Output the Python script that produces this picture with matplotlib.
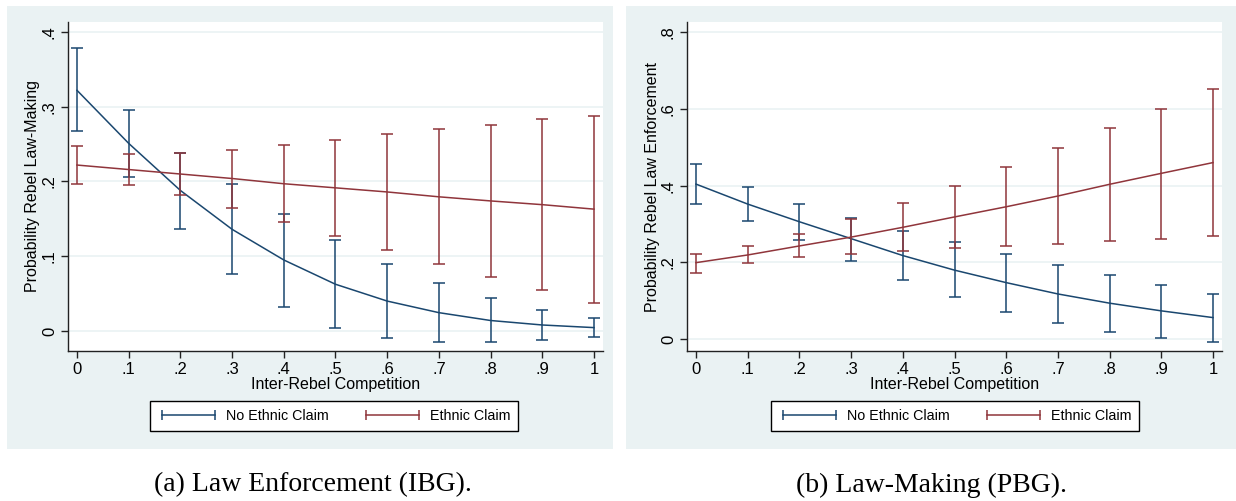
import matplotlib
matplotlib.use("Agg")
import matplotlib.pyplot as plt
from matplotlib.patches import Rectangle
from matplotlib.lines import Line2D

plt.rcParams['font.family'] = ['Liberation Sans', 'DejaVu Sans']

# ---- data -----------------------------------------------------------------
comp = [0, .1, .2, .3, .4, .5, .6, .7, .8, .9, 1]
xticklabels = ["0", ".1", ".2", ".3", ".4", ".5", ".6", ".7", ".8", ".9", "1"]

# (a) law-making
a_no_mean = [0.322, 0.251, 0.188, 0.136, 0.095, 0.0625, 0.040, 0.0245, 0.014, 0.008, 0.0045]
a_no_hi   = [0.378, 0.295, 0.238, 0.196, 0.157, 0.122, 0.090, 0.064, 0.044, 0.028, 0.017]
a_no_lo   = [0.267, 0.206, 0.137, 0.076, 0.032, 0.0045, -0.010, -0.015, -0.015, -0.012, -0.0085]
a_eth_mean = [0.222, 0.216, 0.210, 0.204, 0.197, 0.1915, 0.186, 0.1795, 0.174, 0.169, 0.163]
a_eth_hi   = [0.247, 0.237, 0.238, 0.242, 0.249, 0.256, 0.263, 0.270, 0.276, 0.283, 0.288]
a_eth_lo   = [0.197, 0.195, 0.182, 0.164, 0.1455, 0.127, 0.108, 0.089, 0.072, 0.0545, 0.038]
a_yticks = [0, .1, .2, .3, .4]
a_yticklabels = ["0", ".1", ".2", ".3", ".4"]

# (b) law enforcement
b_no_mean = [0.404, 0.352, 0.306, 0.262, 0.218, 0.180, 0.1475, 0.118, 0.094, 0.074, 0.0565]
b_no_hi   = [0.4555, 0.397, 0.353, 0.315, 0.283, 0.252, 0.222, 0.1935, 0.1675, 0.142, 0.119]
b_no_lo   = [0.352, 0.309, 0.258, 0.204, 0.154, 0.109, 0.072, 0.0435, 0.020, 0.0035, -0.006]
b_eth_mean = [0.1995, 0.2195, 0.243, 0.266, 0.2915, 0.3185, 0.345, 0.373, 0.4035, 0.432, 0.460]
b_eth_hi   = [0.223, 0.242, 0.273, 0.312, 0.354, 0.400, 0.448, 0.498, 0.549, 0.600, 0.6515]
b_eth_lo   = [0.1735, 0.198, 0.2135, 0.222, 0.231, 0.237, 0.243, 0.248, 0.255, 0.262, 0.270]
b_yticks = [0, .2, .4, .6, .8]
b_yticklabels = ["0", ".2", ".4", ".6", ".8"]

BLUE = "#1a476f"
RED = "#90353b"
BG = "#eaf2f3"
W, H = 1236, 501

fig = plt.figure(figsize=(W/100, H/100), dpi=100)

def fx(px): return px / W
def fy(py): return 1 - py / H

# outer grey panels
for x0, x1 in [(7, 613), (626, 1236)]:
    fig.patches.append(Rectangle((fx(x0), fy(449)), fx(x1 - x0), (449 - 6) / H,
                                 transform=fig.transFigure, facecolor=BG,
                                 edgecolor="none", zorder=-5))

def panel(left_px, ylim, yticks, yticklabels, ylabel,
          no_m, no_lo, no_hi, e_m, e_lo, e_hi, leg_cx):
    ax = fig.add_axes([fx(left_px), fy(351), fx(535), 329 / H])
    ax.set_zorder(1)
    ax.set_facecolor("white")
    for s in ["top", "right"]:
        ax.spines[s].set_visible(False)
    for s in ["left", "bottom"]:
        ax.spines[s].set_color("#222222")
        ax.spines[s].set_linewidth(1.0)
    for y in yticks:
        ax.axhline(y, color=BG, lw=1.2, zorder=0)
    for m, lo, hi, c in [(no_m, no_lo, no_hi, BLUE), (e_m, e_lo, e_hi, RED)]:
        ax.plot(comp, m, color=c, lw=1.1, zorder=3)
        err = [[mm - l for mm, l in zip(m, lo)], [h - mm for mm, h in zip(m, hi)]]
        ax.errorbar(comp, m, yerr=err, fmt="none", ecolor=c, elinewidth=1.1,
                    capsize=4, capthick=1.1, zorder=3)
    ax.set_xlim(-0.0174, 1.0174)
    ax.set_ylim(*ylim)
    ax.set_xticks(comp)
    ax.set_xticklabels(xticklabels, fontsize=12)
    ax.set_yticks(yticks)
    ax.set_yticklabels(yticklabels, fontsize=12, rotation=90, va="center")
    ax.tick_params(direction="out", length=5, width=1, color="#222222", pad=3)
    ax.set_xlabel("Inter-Rebel Competition", fontsize=11.5, labelpad=0)
    ax.set_ylabel(ylabel, fontsize=11.5, labelpad=1)
    handles = [Line2D([], [], color=BLUE, lw=1.1, marker="|", markersize=7, mew=1.1),
               Line2D([], [], color=RED, lw=1.1, marker="|", markersize=7, mew=1.1)]
    leg = fig.legend(handles, ["No Ethnic Claim", "Ethnic Claim"], loc="center",
                     bbox_to_anchor=(fx(leg_cx), fy(416)), ncol=2, numpoints=2,
                     fontsize=10.3, frameon=True, fancybox=False, handlelength=4.3,
                     columnspacing=2.3, handletextpad=0.45, borderpad=0.55)
    leg.get_frame().set_edgecolor("black")
    leg.get_frame().set_linewidth(1.0)
    leg.get_frame().set_facecolor("white")
    leg.get_frame().set_alpha(1)
    return ax

panel(68, (-0.0268, 0.4134), a_yticks, a_yticklabels, "Probability Rebel Law-Making",
      a_no_mean, a_no_lo, a_no_hi, a_eth_mean, a_eth_lo, a_eth_hi, 334)
panel(687, (-0.0305, 0.826), b_yticks, b_yticklabels, "Probability Rebel Law Enforcement",
      b_no_mean, b_no_lo, b_no_hi, b_eth_mean, b_eth_lo, b_eth_hi, 955)

cap = dict(fontsize=20, family=["Liberation Serif", "DejaVu Serif"], ha="center", va="center")
fig.text(fx(313), fy(485), "(a) Law Enforcement (IBG).", **cap)
fig.text(fx(931), fy(485), "(b) Law-Making (PBG).", **cap)

fig.savefig("out.png", dpi=100, facecolor="white")
